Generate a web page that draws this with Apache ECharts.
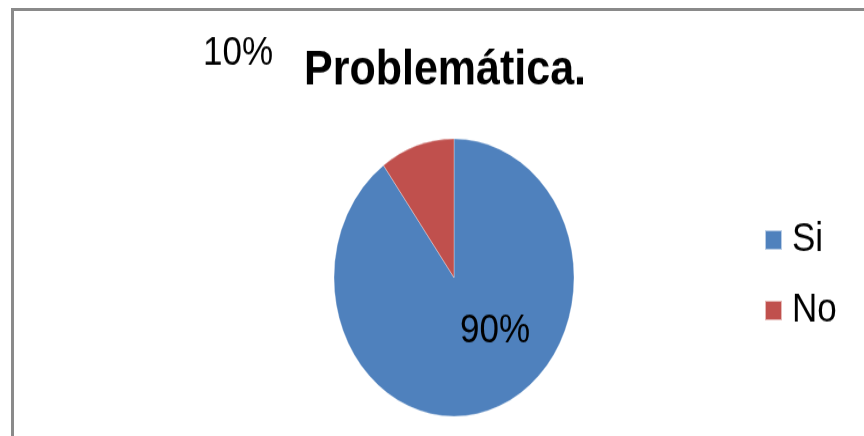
<!DOCTYPE html>
<html><head><meta charset="utf-8">
<script src="https://cdn.jsdelivr.net/npm/echarts@6/dist/echarts.min.js"></script>
<style>
html,body{margin:0;padding:0;background:#fff;overflow:hidden;}
#wrap{position:absolute;left:0;top:0;width:864px;height:436px;}
#frame{position:absolute;left:11px;top:8px;width:900px;height:500px;border-left:3px solid #8a8a8a;border-top:3px solid #8a8a8a;}
#chart{position:absolute;left:0;top:0;width:864px;height:377px;transform:scaleY(1.1565);transform-origin:0 0;}
</style></head>
<body>
<div id="wrap"><div id="frame"></div><div id="chart"></div></div>
<script>
const titleText = 'Problemática.';
const categories = ['Si', 'No'];
const values = [90, 10];
const colors = ['#4F81BD', '#C0504D'];

const chart = echarts.init(document.getElementById('chart'), null, {renderer: 'canvas'});
chart.setOption({
  animation: false,
  color: colors,
  title: {
    text: titleText, left: 299, top: 35,
    textStyle: {fontFamily: 'Liberation Sans', fontWeight: 'bold', fontSize: 43, color: '#000'}
  },
  legend: {
    orient: 'vertical', left: 759, top: 185,
    itemWidth: 17, itemHeight: 17, itemGap: 26,
    icon: 'rect',
    textStyle: {fontFamily: 'Liberation Sans', fontSize: 35, color: '#000', padding: [0,0,0,5]},
    data: categories
  },
  series: [{
    type: 'pie',
    center: [454, 240],
    radius: 120,
    startAngle: 90,
    clockwise: true,
    avoidLabelOverlap: false,
    itemStyle: {borderColor: 'rgba(255,255,255,0.6)', borderWidth: 0.5},
    label: {
      show: true, position: 'inside',
      formatter: '{d}%',
      fontFamily: 'Liberation Sans', fontSize: 35, color: '#000'
    },
    labelLine: {show: false},
    labelLayout: function (p) {
      if (p.dataIndex === 1) return {x: 238, y: 46, align: 'center', verticalAlign: 'middle'};
      return {x: 495, y: 286, align: 'center', verticalAlign: 'middle'};
    },
    data: categories.map((c, i) => ({name: c, value: values[i]}))
  }]
});
</script>
</body></html>
